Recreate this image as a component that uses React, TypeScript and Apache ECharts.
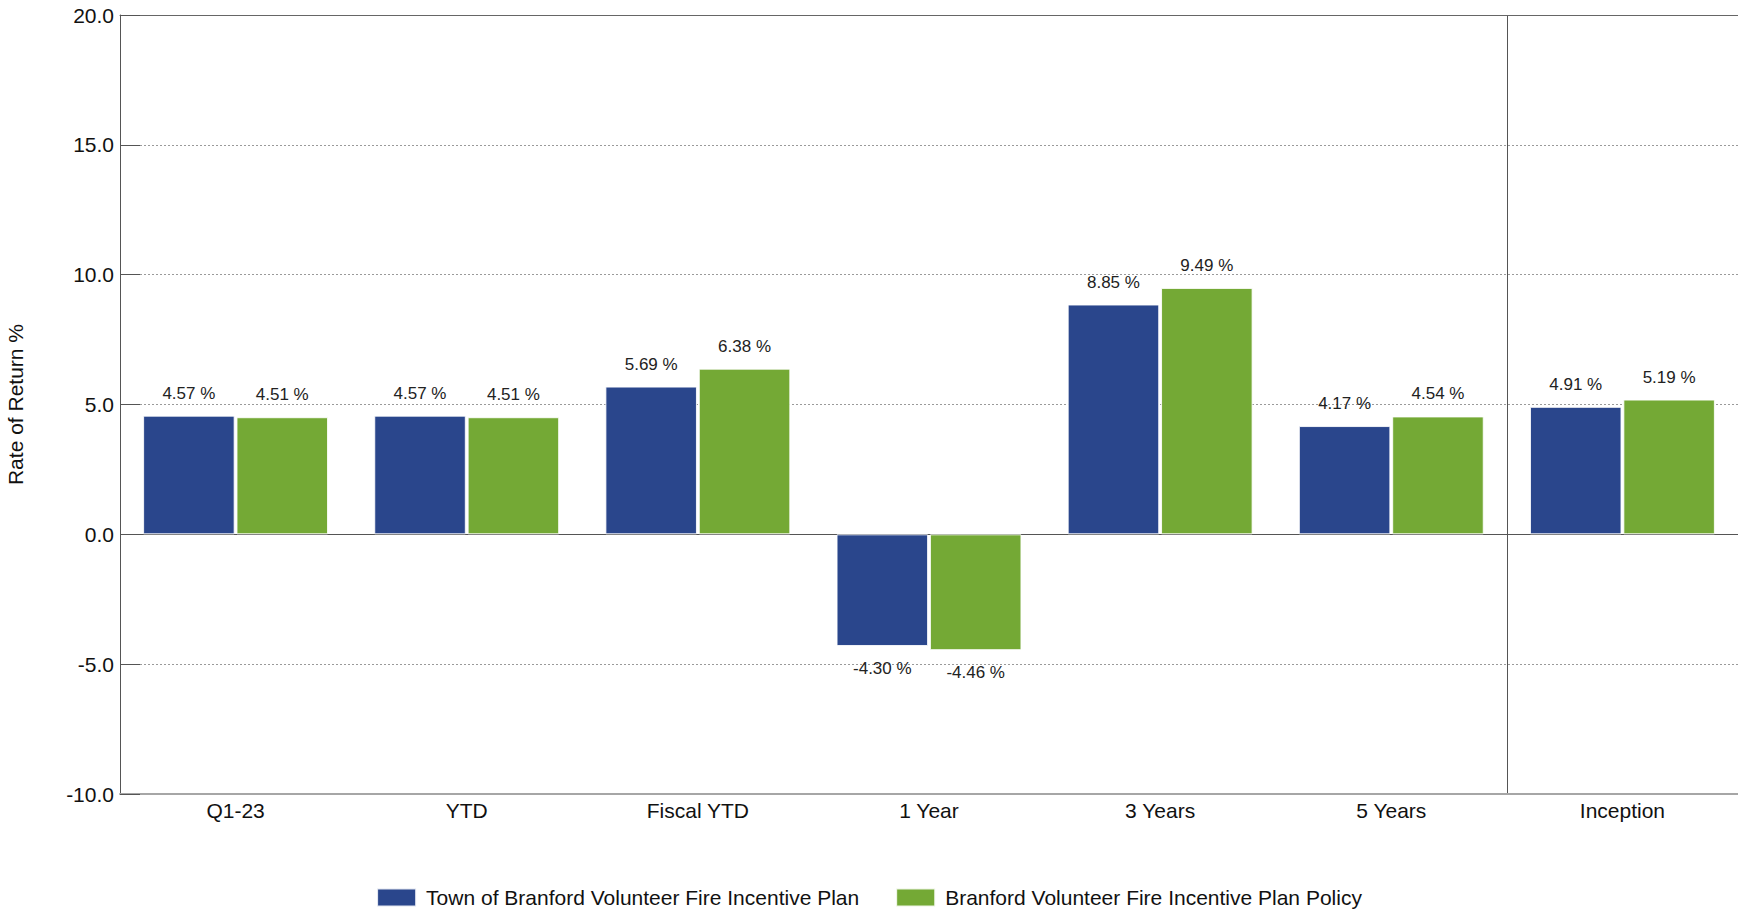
import React, { useEffect, useRef } from "react";
import * as echarts from "echarts";

// Periods shown along the category axis
const categories = ["Q1-23", "YTD", "Fiscal YTD", "1 Year", "3 Years", "5 Years", "Inception"];

// Rates of return (%) per period
const planReturns = [4.57, 4.57, 5.69, -4.3, 8.85, 4.17, 4.91];
const policyReturns = [4.51, 4.51, 6.38, -4.46, 9.49, 4.54, 5.19];

const seriesNames = [
  "Town of Branford Volunteer Fire Incentive Plan",
  "Branford Volunteer Fire Incentive Plan Policy",
];

// Value axis range and step
const yMin = -10;
const yMax = 20;
const yStep = 5;

const FONT = "'Liberation Sans', Arial, sans-serif";
const BLUE = "#2A468C";
const GREEN = "#74A935";

// Index of the first category set apart by a vertical divider
const dividerIndex = categories.length - 1;

function toBarData(values: number[]) {
  return values.map((v) => ({
    value: v,
    label: { position: v < 0 ? "bottom" : "top" },
  }));
}

export default function App() {
  const ref = useRef<HTMLDivElement>(null);

  useEffect(() => {
    if (!ref.current) return;
    const chart = echarts.init(ref.current, undefined, { renderer: "svg" });

    const barLabel = {
      show: true,
      distance: 14,
      fontFamily: FONT,
      fontSize: 17,
      color: "#222",
      formatter: (p: any) => `${Number(p.value).toFixed(2)} %`,
    };

    chart.setOption({
      animation: false,
      backgroundColor: "#ffffff",
      textStyle: { fontFamily: FONT },
      grid: {
        left: 120,
        right: 0,
        top: 15,
        bottom: 116,
        containLabel: false,
        outerBoundsMode: "none",
      },
      legend: {
        top: 882,
        left: "center",
        icon: "rect",
        itemWidth: 39,
        itemHeight: 18,
        itemGap: 36,
        textStyle: { fontFamily: FONT, fontSize: 21, color: "#111", padding: [0, 0, 0, 5] },
        data: seriesNames,
      },
      xAxis: [
        {
          type: "category",
          data: categories,
          position: "bottom",
          axisLine: { onZero: false, lineStyle: { color: "#a6a6a6", width: 2 } },
          axisTick: { show: false },
          axisLabel: { fontFamily: FONT, fontSize: 21, color: "#111", margin: 6 },
          splitLine: {
            show: true,
            interval: (index: number) => index === 0 || index === dividerIndex,
            lineStyle: { color: "#555", width: 1, type: "solid" },
          },
        },
        {
          type: "category",
          data: categories,
          position: "top",
          axisLine: { onZero: false, lineStyle: { color: "#666", width: 1 } },
          axisTick: { show: false },
          axisLabel: { show: false },
          splitLine: { show: false },
        },
      ],
      yAxis: {
        type: "value",
        min: yMin,
        max: yMax,
        interval: yStep,
        name: "Rate of Return %",
        nameLocation: "middle",
        nameGap: 94,
        nameTextStyle: { fontFamily: FONT, fontSize: 21, color: "#111" },
        axisLine: { show: true, lineStyle: { color: "#555", width: 1 } },
        axisTick: { show: true, inside: true, length: 20, lineStyle: { color: "#555" } },
        axisLabel: {
          fontFamily: FONT,
          fontSize: 21,
          color: "#111",
          margin: 6,
          formatter: (v: number) => v.toFixed(1),
        },
        splitLine: { show: true, lineStyle: { color: "#9a9a9a", width: 1, type: [2, 2] } },
      },
      series: [
        {
          name: seriesNames[0],
          type: "bar",
          data: toBarData(planReturns),
          barCategoryGap: "20%",
          barGap: "2%",
          itemStyle: { color: BLUE, borderColor: "rgba(255,255,255,0.85)", borderWidth: 1 },
          label: barLabel,
          markLine: {
            silent: true,
            z: 1,
            symbol: "none",
            label: { show: false },
            lineStyle: { color: "#555", width: 1, type: "solid" },
            data: [{ yAxis: 0 }],
          },
        },
        {
          name: seriesNames[1],
          type: "bar",
          data: toBarData(policyReturns),
          barCategoryGap: "20%",
          barGap: "2%",
          itemStyle: { color: GREEN, borderColor: "rgba(255,255,255,0.85)", borderWidth: 1 },
          label: barLabel,
        },
      ],
    });

    return () => chart.dispose();
  }, []);

  return (
    <div
      ref={ref}
      style={{ position: "fixed", left: 0, top: 0, width: 1738, height: 910, background: "#fff" }}
    />
  );
}
